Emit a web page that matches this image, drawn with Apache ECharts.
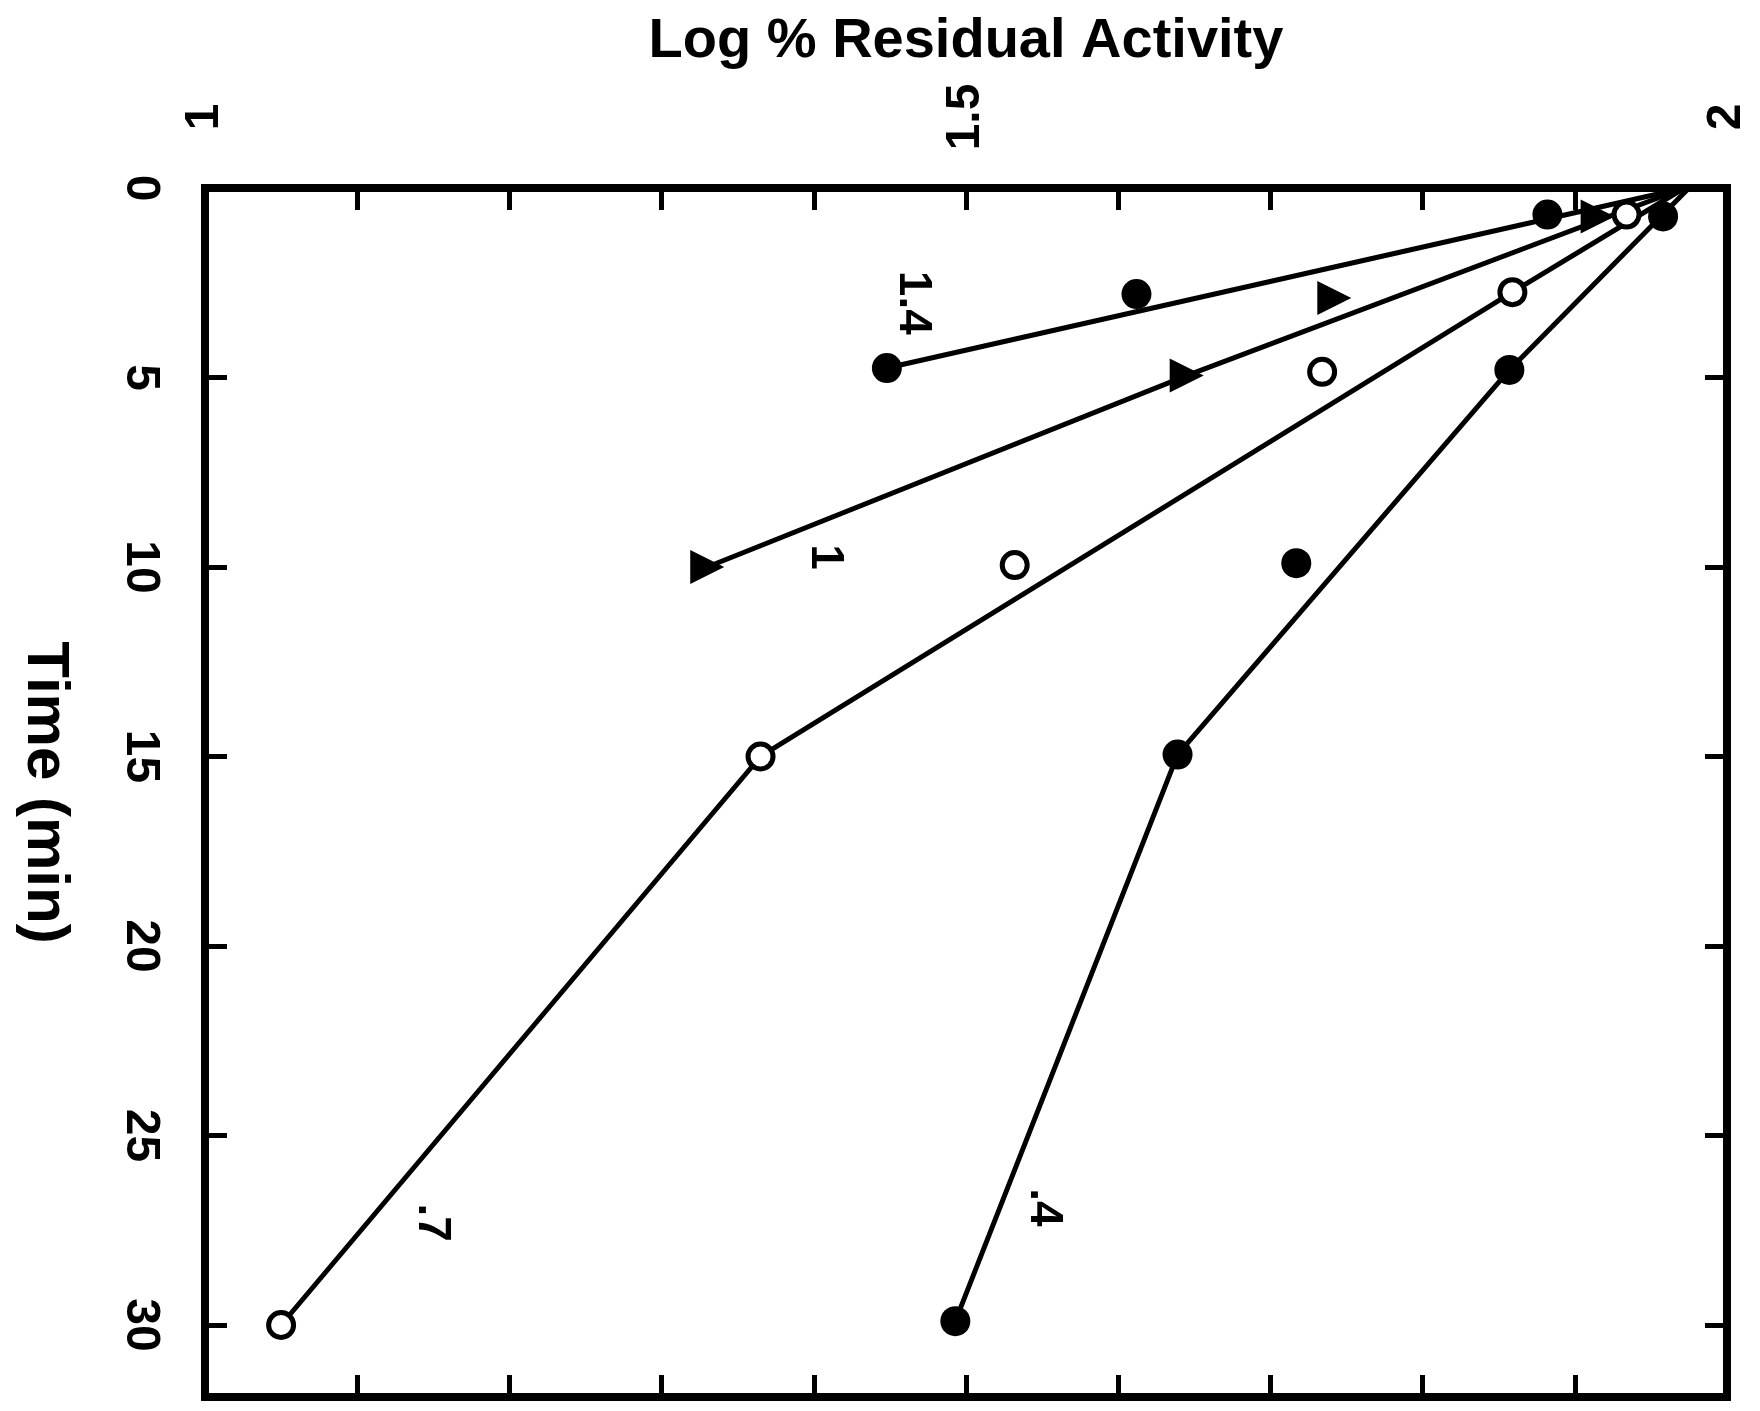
<!DOCTYPE html>
<html>
<head>
<meta charset="utf-8">
<script src="https://cdn.jsdelivr.net/npm/echarts@6/dist/echarts.min.js"></script>
<style>
  html, body { margin: 0; padding: 0; background: #fff; }
  #chart { width: 1760px; height: 1411px; }
</style>
</head>
<body>
<div id="chart"></div>
<script>
// Tick labels shown on the two scales
const activityTicks = [1, 1.5, 2];
const timeTicks = [0, 5, 10, 15, 20, 25, 30];

// Measured points: [log % residual activity, time (min)]
const pts14 = [[1.882, 0.7], [1.612, 2.8], [1.448, 4.75]];
const pts10 = [[1.915, 0.75], [1.742, 2.9], [1.645, 4.95], [1.330, 10.0]];
const pts07 = [[1.934, 0.7], [1.859, 2.75], [1.734, 4.85], [1.532, 9.95], [1.365, 15.0], [1.050, 30.0]];
const pts04 = [[1.958, 0.75], [1.857, 4.8], [1.717, 9.9], [1.639, 14.95], [1.493, 29.9]];

// Decay curves drawn through the data
const curve14 = [[1.972, 0], [1.448, 4.75]];
const curve10 = [[1.972, 0], [1.645, 4.95], [1.330, 10.0]];
const curve07 = [[1.972, 0], [1.859, 2.75], [1.365, 15.0], [1.050, 30.0]];
const curve04 = [[1.975, 0], [1.857, 4.8], [1.639, 14.95], [1.493, 29.9]];

// Curve tags and where they sit
const tagText = ['1.4', '1', '.7', '.4'];
const tagPos = [[1.465, 3.03], [1.407, 9.74], [1.149, 27.3], [1.551, 26.9]];

const FONT = 'Liberation Sans';
const INK = '#000';

function pickLabel(ticks) {
  return function (v) {
    const t = ticks.find(k => Math.abs(k - v) < 1e-6);
    return t === undefined ? '' : String(t);
  };
}

const lineAxis = { show: true, onZero: false, lineStyle: { color: INK, width: 8, cap: 'square' } };
const tick = { show: true, inside: true, length: 22, lineStyle: { color: INK, width: 5 } };
const labelFont = { fontFamily: FONT, fontWeight: 'bold', fontSize: 48, color: INK };

function curve(data) {
  return {
    type: 'line', data: data, symbol: 'none', silent: true, z: 2,
    lineStyle: { color: INK, width: 5, cap: 'round', join: 'round', opacity: 1 }
  };
}
function filled(data) {
  return {
    type: 'scatter', data: data, symbol: 'circle', symbolSize: 30, z: 3,
    itemStyle: { color: INK, opacity: 1 }
  };
}
function hollow(data) {
  return {
    type: 'scatter', data: data, symbol: 'circle', symbolSize: 25, z: 3,
    itemStyle: { color: '#fff', borderColor: INK, borderWidth: 5, opacity: 1 }
  };
}
function wedge(data) {
  return {
    type: 'scatter', data: data, symbol: 'triangle', symbolSize: 34, symbolRotate: -90, z: 3,
    itemStyle: { color: INK, opacity: 1 }
  };
}

const option = {
  animation: false,
  backgroundColor: '#fff',
  grid: { left: 205, right: 33, top: 188, bottom: 14 },
  xAxis: [
    {
      type: 'value', position: 'top', min: 1, max: 2, interval: 0.1,
      name: 'Log % Residual Activity', nameLocation: 'middle', nameGap: 118,
      nameTextStyle: { fontFamily: FONT, fontWeight: 'bold', fontSize: 56, color: INK, lineHeight: 56 },
      axisLine: lineAxis, axisTick: tick,
      axisLabel: Object.assign({ show: true, rotate: -90, align: 'center', margin: 71,
        formatter: pickLabel(activityTicks) }, labelFont),
      splitLine: { show: false }
    },
    {
      type: 'value', position: 'bottom', min: 1, max: 2, interval: 0.1,
      axisLine: lineAxis, axisTick: tick, axisLabel: { show: false }, splitLine: { show: false }
    }
  ],
  yAxis: [
    {
      type: 'value', position: 'left', inverse: true, min: 0, max: 31.9, interval: 5,
      name: 'Time (min)', nameLocation: 'middle', nameRotate: -90, nameGap: 130,
      nameTextStyle: { fontFamily: FONT, fontWeight: 'bold', fontSize: 60, color: INK, lineHeight: 60 },
      axisLine: lineAxis, axisTick: tick,
      axisLabel: Object.assign({ show: true, rotate: -90, margin: 41,
        formatter: pickLabel(timeTicks) }, labelFont),
      splitLine: { show: false }
    },
    {
      type: 'value', position: 'right', inverse: true, min: 0, max: 31.9, interval: 5,
      axisLine: lineAxis, axisTick: tick, axisLabel: { show: false }, splitLine: { show: false }
    }
  ],
  series: [
    curve(curve14), curve(curve10), curve(curve07), curve(curve04),
    filled(pts14), wedge(pts10), hollow(pts07), filled(pts04),
    {
      type: 'scatter', data: tagPos, symbolSize: 1, silent: true, z: 4,
      itemStyle: { color: 'rgba(0,0,0,0)' },
      label: {
        show: true, position: 'inside', rotate: -90, opacity: 1,
        textBorderWidth: 0, textShadowBlur: 0,
        fontFamily: FONT, fontWeight: 'bold', fontSize: 46, color: INK,
        formatter: p => tagText[p.dataIndex]
      }
    }
  ]
};

const chart = echarts.init(document.getElementById('chart'), null, { renderer: 'canvas' });
chart.setOption(option);
</script>
</body>
</html>
